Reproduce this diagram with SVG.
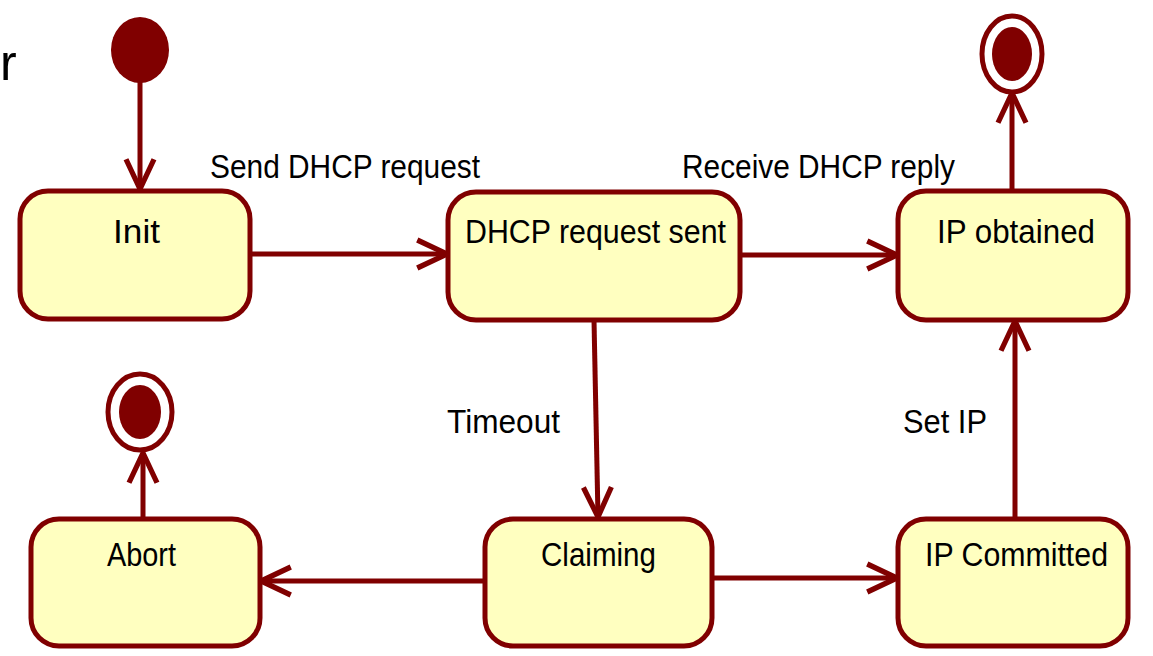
<svg xmlns="http://www.w3.org/2000/svg" width="1153" height="656" viewBox="0 0 1153 656">
<style>
.st{fill:#ffffc0;stroke:#800000;stroke-width:5}
.lbl{font-family:"Liberation Sans","DejaVu Sans",sans-serif;font-size:33px;fill:#000}
.c{text-anchor:middle}
.e{fill:none;stroke:#800000;stroke-width:5}
.dot{fill:#800000}
.ring{fill:#fff;stroke:#800000;stroke-width:5}
</style>
<defs>
<marker id="ah" viewBox="0 0 20 20" refX="19" refY="10" markerWidth="7" markerHeight="7" orient="auto" markerUnits="strokeWidth">
<path d="M2,2 L19,10 L2,18" fill="none" stroke="#800000" stroke-width="3"/>
</marker>
</defs>
<text x="0" y="80" font-family="Liberation Sans, sans-serif" font-size="50" fill="#000">r</text>
<g id="connectors">
<line class="e" x1="140" y1="82" x2="140" y2="189" marker-end="url(#ah)"/>
<line class="e" x1="250" y1="254" x2="447" y2="254" marker-end="url(#ah)"/>
<line class="e" x1="740" y1="255" x2="897" y2="255" marker-end="url(#ah)"/>
<line class="e" x1="1012" y1="190" x2="1012" y2="93" marker-end="url(#ah)"/>
<line class="e" x1="594" y1="320" x2="598" y2="517" marker-end="url(#ah)"/>
<line class="e" x1="485" y1="581" x2="261" y2="581" marker-end="url(#ah)"/>
<line class="e" x1="143" y1="518" x2="143" y2="453" marker-end="url(#ah)"/>
<line class="e" x1="712" y1="578" x2="897" y2="578" marker-end="url(#ah)"/>
<line class="e" x1="1015" y1="518" x2="1015" y2="321" marker-end="url(#ah)"/>
<text class="lbl" x="210" y="178" textLength="270" lengthAdjust="spacingAndGlyphs">Send DHCP request</text>
<text class="lbl" x="682" y="178" textLength="273" lengthAdjust="spacingAndGlyphs">Receive DHCP reply</text>
<text class="lbl" x="447" y="433" textLength="113" lengthAdjust="spacingAndGlyphs">Timeout</text>
<text class="lbl" x="903" y="433" textLength="84" lengthAdjust="spacingAndGlyphs">Set IP</text>
</g>
<g id="initial"><ellipse class="dot" cx="140" cy="50" rx="29" ry="33"/></g>
<g id="final-top"><ellipse class="ring" cx="1012" cy="54" rx="30" ry="38"/><ellipse class="dot" cx="1012" cy="54" rx="20" ry="27"/></g>
<g id="final-abort"><ellipse class="ring" cx="140" cy="412" rx="32" ry="38"/><ellipse class="dot" cx="140" cy="412" rx="21" ry="27"/></g>
<g id="init"><rect class="st" x="20" y="191" width="230" height="128" rx="28"/><text class="lbl" x="113" y="243" textLength="47" lengthAdjust="spacingAndGlyphs">Init</text></g>
<g id="dhcp-sent"><rect class="st" x="448" y="192" width="292" height="128" rx="28"/><text class="lbl" x="465" y="243" textLength="261" lengthAdjust="spacingAndGlyphs">DHCP request sent</text></g>
<g id="ip-obtained"><rect class="st" x="898" y="191" width="230" height="129" rx="28"/><text class="lbl" x="937" y="243" textLength="158" lengthAdjust="spacingAndGlyphs">IP obtained</text></g>
<g id="abort"><rect class="st" x="31" y="519" width="229" height="127" rx="28"/><text class="lbl" x="107" y="566" textLength="69" lengthAdjust="spacingAndGlyphs">Abort</text></g>
<g id="claiming"><rect class="st" x="485" y="519" width="227" height="127" rx="28"/><text class="lbl" x="541" y="566" textLength="115" lengthAdjust="spacingAndGlyphs">Claiming</text></g>
<g id="ip-committed"><rect class="st" x="898" y="519" width="230" height="127" rx="28"/><text class="lbl" x="925" y="566" textLength="183" lengthAdjust="spacingAndGlyphs">IP Committed</text></g>
</svg>
